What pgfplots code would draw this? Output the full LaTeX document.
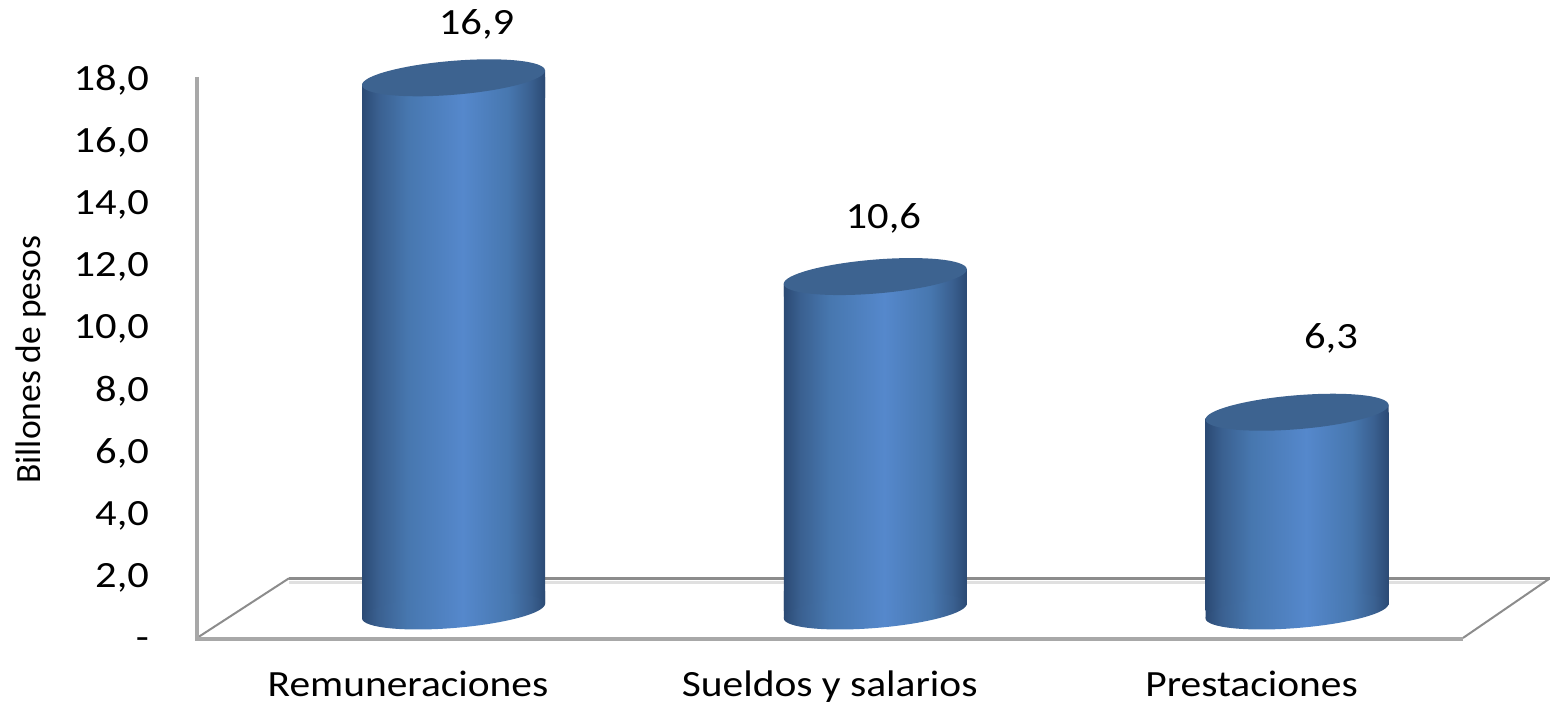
\documentclass[border=0pt]{standalone}
\usepackage{fontspec}
\setmainfont{Carlito}
\newfontfamily\labfont[FakeStretch=1.12]{Carlito}
\newfontfamily\ticfont[FakeStretch=1.15]{Carlito}
\usepackage{pgfplots}
\usepackage{pgfplotstable}
\pgfplotsset{compat=1.18}
\definecolor{c0}{HTML}{2B4A74}
\definecolor{c1}{HTML}{3A6090}
\definecolor{c2}{HTML}{4777AF}
\definecolor{c3}{HTML}{5588CC}
\definecolor{capc}{HTML}{3D6390}
\definecolor{wallc}{HTML}{A8A8A8}
\definecolor{backc}{HTML}{8C8C8C}
\definecolor{backl}{HTML}{E0E0E0}
\pgfdeclarehorizontalshading{cyl}{100bp}{color(0bp)=(c0); color(25bp)=(c0); color(29.5bp)=(c1); color(37.5bp)=(c2); color(52.5bp)=(c3); color(65bp)=(c2); color(71bp)=(c1); color(75bp)=(c0); color(100bp)=(c0)}
\newcommand\polyp[8]{%
  \pgfpathmoveto{\pgfqpoint{#1pt}{#2pt}}%
  \pgfpathlineto{\pgfqpoint{#3pt}{#4pt}}%
  \pgfpathlineto{\pgfqpoint{#5pt}{#6pt}}%
  \pgfpathlineto{\pgfqpoint{#7pt}{#8pt}}%
  \pgfpathclose}
\pgfdeclareplotmark{cyltop}{%
  \pgfscope
  \pgfsetfillcolor{white}%
  \polyp{-93}{1}{-93}{-7.2}{-82}{1}{-93}{1}%
  \pgfusepath{fill}%
  \polyp{-91.5}{-7.5}{91.5}{7.5}{91.5}{-20}{-91.5}{-20}%
  \pgfshadepath{cyl}{0}\pgfusepath{discard}%
  \pgfsetfillcolor{capc}%
  \pgfpathellipse{\pgfpointorigin}{\pgfqpoint{91.5pt}{7.5pt}}{\pgfqpoint{-1.4pt}{16.9pt}}%
  \pgfusepath{fill}%
  \endpgfscope
}
\pgfdeclareplotmark{cylbase}{%
  \pgfscope
  \pgfsetfillcolor{white}%
  \polyp{93}{-1}{93}{7.2}{82}{-1}{93}{-1}%
  \pgfusepath{fill}%
  \polyp{-91.5}{-7.5}{91.5}{7.5}{91.5}{20}{-91.5}{20}%
  \pgfshadepath{cyl}{0}\pgfusepath{discard}%
  \pgfpathellipse{\pgfpointorigin}{\pgfqpoint{91.5pt}{7.5pt}}{\pgfqpoint{-1.4pt}{16.9pt}}%
  \pgfshadepath{cyl}{0}\pgfusepath{discard}%
  \endpgfscope
}
\pgfplotstableread{
x y lab dx dy
0 16.9 {16,9} 23 53
1 10.6 {10,6} 8 58
2 6.3 {6,3} 34 74
}\cyldata
\pgfplotstableread{
x y
0 0
1 0
2 0
}\basedata
\begin{document}
\begin{tikzpicture}[x=1pt,y=1pt]
\path[use as bounding box] (0,0) rectangle (1550,704);
% wall, floor and value scale
\begin{axis}[
  at={(0pt,0pt)},anchor=south west,scale only axis,width=1550pt,height=704pt,
  xmin=0,xmax=1550,ymin=-2.075,ymax=20.576,clip=false,
  axis line style={draw=none},major tick length=0pt,
  xtick=\empty,
  ytick={0,2,4,6,8,10,12,14,16,18},
  yticklabels={\raisebox{-9pt}[0pt][0pt]{-},{2,0},{4,0},{6,0},{8,0},{10,0},{12,0},{14,0},{16,0},{18,0}},
  yticklabel style={anchor=east,xshift=152.5pt,yshift=-0.5pt,font=\fontsize{37}{37}\selectfont\ticfont},
  ylabel={Billones de pesos},
  every axis y label/.style={at={(rel axis cs:0.0200,0.489)},rotate=90,anchor=center,font=\fontsize{35.5}{35.5}\selectfont},
]
\addplot[backl,line width=3pt,forget plot] coordinates {(289,1.85) (1545,1.85)};
\addplot[backc,line width=3pt,forget plot] coordinates {(289,1.97) (1550,1.97)};
\addplot[backc,line width=2pt,forget plot] coordinates {(197,0.05) (289,1.97)};
\addplot[backc,line width=2pt,forget plot] coordinates {(1463,0.05) (1550,1.97)};
\addplot[wallc,line width=4pt,forget plot] coordinates {(197,18.1) (197,0.03)};
\addplot[wallc,line width=4pt,forget plot] coordinates {(195,0.03) (1463,0.03)};
\end{axis}
% cylinders
\begin{axis}[
  at={(0pt,0pt)},anchor=south west,scale only axis,width=1550pt,height=704pt,
  xmin=-1.0753,xmax=2.5999,ymin=-2.9477,ymax=19.366,clip=false,
  axis line style={draw=none},major tick length=0pt,
  ytick=\empty,
  xtick={0,1,2},
  xticklabels={Remuneraciones,Sueldos y salarios,Prestaciones},
  xticklabel style={anchor=base,xshift=-45.5pt,yshift=7.5pt,font=\fontsize{37}{37}\selectfont\labfont},
]
\addplot[ybar,bar width=183pt,bar shift=0pt,draw=none,shading=cyl,forget plot] coordinates {(0,16.9)};
\addplot[ybar,bar width=183pt,bar shift=0pt,draw=none,shading=cyl,forget plot] coordinates {(1,10.6)};
\addplot[ybar,bar width=183pt,bar shift=0pt,draw=none,shading=cyl,forget plot] coordinates {(2,6.3)};
\addplot[only marks,mark=cylbase,forget plot] table[x=x,y=y] {\basedata};
\addplot[only marks,mark=cyltop,forget plot,
  visualization depends on={\thisrow{dx} \as \dxv},
  visualization depends on={\thisrow{dy} \as \dyv},
  point meta=explicit symbolic,
  nodes near coords,
  nodes near coords style={anchor=center,xshift=\dxv pt,yshift=\dyv pt,font=\fontsize{37}{37}\selectfont\ticfont,text=black},
] table[x=x,y=y,meta=lab] {\cyldata};
\end{axis}
\end{tikzpicture}
\end{document}
